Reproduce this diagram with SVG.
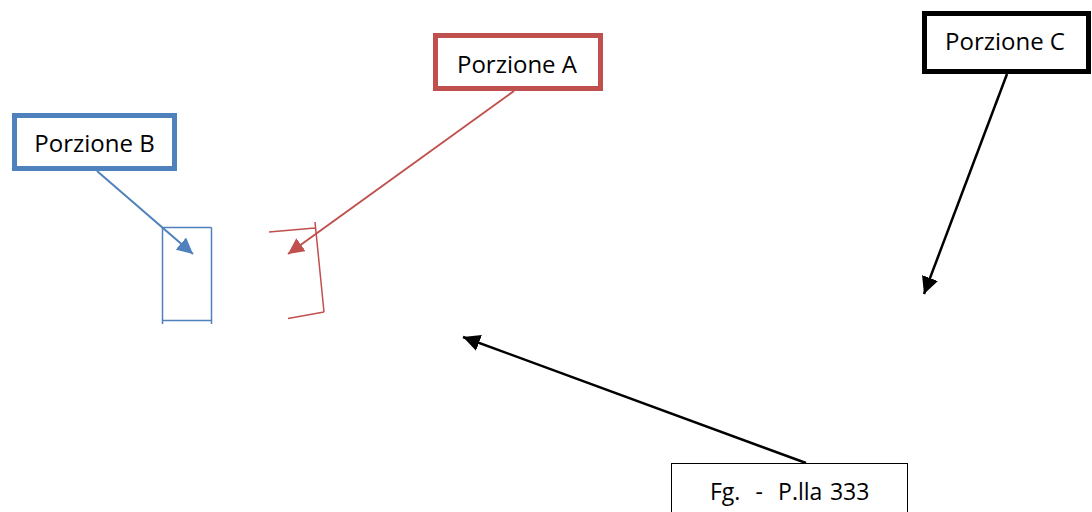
<svg xmlns="http://www.w3.org/2000/svg" width="1092" height="512" viewBox="0 0 1092 512">
<style>
text{font-family:"Open Sans","Liberation Sans",Arial,sans-serif;fill:#000}
.lbl{font-size:24px;text-anchor:middle}
.box{fill:#fff}
</style>
<defs>
<marker id="hb" markerUnits="userSpaceOnUse" markerWidth="17" markerHeight="16" refX="16" refY="8" orient="auto"><path d="M0,0 L16,8 L0,16 Z" fill="#4f81bd"/></marker>
<marker id="hr" markerUnits="userSpaceOnUse" markerWidth="17" markerHeight="16" refX="16" refY="8" orient="auto"><path d="M0,0 L16,8 L0,16 Z" fill="#c0504d"/></marker>
<marker id="hk" markerUnits="userSpaceOnUse" markerWidth="18" markerHeight="17" refX="17" refY="8.5" orient="auto"><path d="M0,0 L17,8.5 L0,17 Z" fill="#000"/></marker>
</defs>
<rect width="1092" height="512" fill="#fff"/>
<g id="shapeB" fill="none" stroke="#4f81bd" stroke-width="1.5">
<path d="M162.5,227.5 L211.5,227.5 M162.5,227.5 L162.5,324 M211.5,227.5 L211.5,324 M162.5,320.5 L211.5,320.5"/>
</g>
<g id="shapeA" fill="none" stroke="#c0504d" stroke-width="1.5">
<path d="M269,232 L315,228 M315,222 L324,312 M288,318.5 L324,312"/>
</g>
<g id="connectors" fill="none" stroke-width="2">
<line x1="97" y1="171" x2="193" y2="254" stroke="#4f81bd" marker-end="url(#hb)"/>
<line x1="514" y1="91" x2="288" y2="254" stroke="#c0504d" marker-end="url(#hr)"/>
<line x1="1007" y1="74" x2="924" y2="294" stroke="#000" stroke-width="2.5" marker-end="url(#hk)"/>
<line x1="806" y1="463" x2="463" y2="337" stroke="#000" stroke-width="2.5" marker-end="url(#hk)"/>
</g>
<g id="nodeB"><rect class="box" x="14.5" y="115.5" width="160" height="53" stroke="#4f81bd" stroke-width="5"/><text class="lbl" x="94.5" y="152">Porzione B</text></g>
<g id="nodeA"><rect class="box" x="435.5" y="35.5" width="165" height="53" stroke="#c0504d" stroke-width="5"/><text class="lbl" x="517" y="73">Porzione A</text></g>
<g id="nodeC"><rect class="box" x="924.5" y="13.5" width="164" height="58" stroke="#000" stroke-width="5"/><text class="lbl" x="1005" y="50">Porzione C</text></g>
<g id="nodeFg"><rect class="box" x="671.5" y="463.5" width="236" height="60" stroke="#000" stroke-width="1"/><text x="710" y="500" font-size="23" word-spacing="1.6" xml:space="preserve">Fg.  -  P.lla 333</text></g>
</svg>
